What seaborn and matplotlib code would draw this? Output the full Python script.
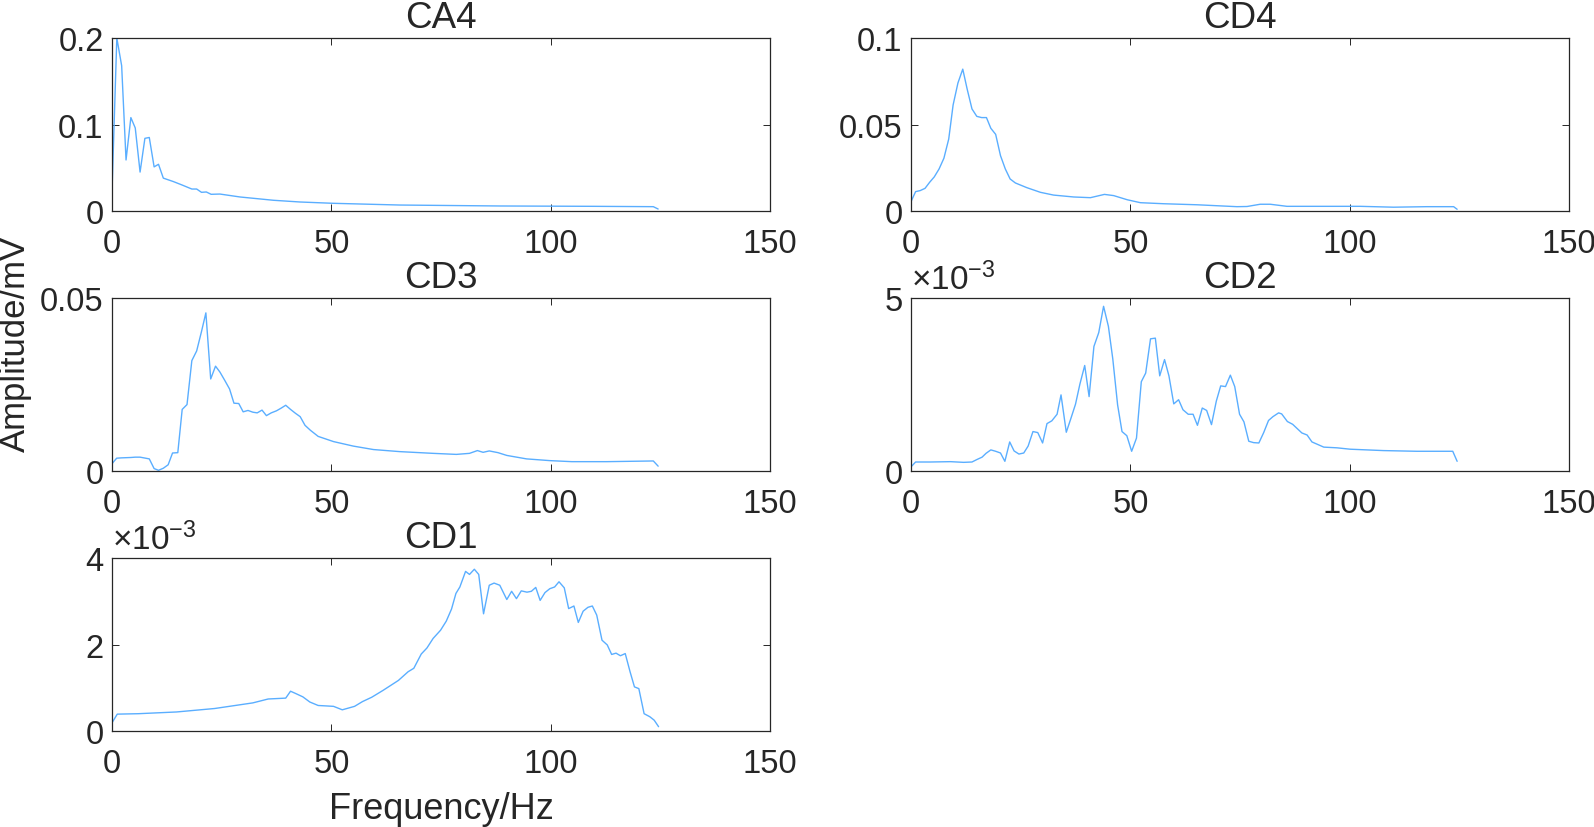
import numpy as np
import pandas as pd
import matplotlib
matplotlib.use("Agg")
import matplotlib.pyplot as plt
import seaborn as sns

# ---------------- data ----------------
ca4_f = [0, 1.1, 2.2, 3.2, 4.3, 5.3, 6.4, 7.5, 8.5, 9.6, 10.6, 11.7, 14, 16, 18.2, 19.3,
         20.4, 21.5, 22.6, 24.6, 29.2, 36.8, 42.9, 50.4, 65.6, 88.4, 110, 123.4, 124.5]
ca4_v = [0.022, 0.200, 0.168, 0.059, 0.108, 0.096, 0.045, 0.084, 0.085, 0.051, 0.054, 0.038,
         0.034, 0.030, 0.0254, 0.0254, 0.0216, 0.022, 0.0193, 0.0196, 0.0162, 0.0124, 0.0104,
         0.0089, 0.0069, 0.0058, 0.0054, 0.0050, 0.0023]

cd4_f = [0, 1.05, 2.1, 3.2, 4.25, 5.3, 6.4, 7.5, 8.6, 9.6, 10.7, 11.8, 12.8, 13.9, 15.0, 16.1,
         17.2, 18.2, 19.3, 20.4, 21.5, 22.6, 23.8, 26.4, 29.5, 32.5, 37.1, 40.9, 44.1, 46.2,
         49.3, 52.3, 57.6, 65.2, 74.3, 76.6, 79.6, 81.9, 85.7, 102.4, 110, 117.6, 123.7, 124.5]
cd4_v = [0.0054, 0.0112, 0.0118, 0.0131, 0.0166, 0.0197, 0.0243, 0.0305, 0.0416, 0.0613, 0.074,
         0.082, 0.0705, 0.059, 0.0547, 0.054, 0.054, 0.0478, 0.0443, 0.032, 0.0243, 0.0185,
         0.0162, 0.0135, 0.0108, 0.0092, 0.0081, 0.0077, 0.0096, 0.0089, 0.0065, 0.0048, 0.0042,
         0.0036, 0.0025, 0.0026, 0.0039, 0.0039, 0.0027, 0.0027, 0.0022, 0.0025, 0.0025, 0.0010]

cd3_f = [0, 1.06, 2.2, 4.25, 5.3, 6.4, 8.5, 9.6, 10.6, 11.7, 12.8, 13.8, 15.0, 16.0, 17.1,
         18.2, 19.3, 20.4, 21.4, 22.5, 23.6, 24.6, 25.7, 26.8, 27.8, 28.9, 29.9, 31.0, 32.1,
         33.1, 34.2, 35.2, 36.3, 37.5, 38.6, 39.6, 40.7, 41.8, 42.9, 44.0, 45.2, 47.0, 50.5,
         55.0, 59.6, 65.6, 73.2, 78.5, 81.5, 83.3, 84.6, 86.0, 88.0, 90.0, 94.5, 99.8, 104.8,
         112.8, 123.4, 124.5]
cd3_v = [0.0021, 0.0037, 0.0038, 0.0039, 0.0040, 0.0040, 0.0035, 0.0007, 0.0002, 0.0008,
         0.0018, 0.0052, 0.0053, 0.0178, 0.0192, 0.0319, 0.0347, 0.0403, 0.0457, 0.0266,
         0.0303, 0.0286, 0.0262, 0.0237, 0.0196, 0.0195, 0.0171, 0.0175, 0.0170, 0.0168,
         0.0176, 0.0160, 0.0168, 0.0174, 0.0182, 0.0190, 0.0178, 0.0167, 0.0157, 0.0132,
         0.0118, 0.0100, 0.0085, 0.0072, 0.0062, 0.0056, 0.0051, 0.0048, 0.0051, 0.0059,
         0.0054, 0.0058, 0.0053, 0.0045, 0.0035, 0.0030, 0.0027, 0.0027, 0.0029, 0.0014]

# CD2 and CD1 in units of 1e-3 mV
cd2_f = [0, 1.05, 4.4, 9.0, 12.0, 13.9, 15.0, 16.2, 17.1, 18.2, 19.3, 20.4, 21.4, 22.5, 23.5,
         24.6, 25.7, 26.7, 27.8, 28.9, 30.0, 31.0, 32.1, 33.3, 34.2, 35.4, 36.4, 37.5, 38.5,
         39.6, 40.6, 41.7, 42.8, 43.9, 45.0, 46.0, 47.1, 48.1, 49.2, 50.3, 51.4, 52.5, 53.5,
         54.6, 55.7, 56.7, 57.8, 58.8, 59.9, 61.0, 62.0, 63.2, 64.3, 65.3, 66.4, 67.4, 68.5,
         69.6, 70.6, 71.7, 72.8, 73.8, 74.9, 75.9, 77.0, 78.1, 79.3, 80.4, 81.5, 82.5, 83.8,
         84.5, 85.8, 87.0, 89.1, 90.3, 91.4, 94.1, 97.1, 100.1, 107.7, 115.3, 123.5, 124.5]
cd2_v = [0.12, 0.26, 0.26, 0.27, 0.25, 0.26, 0.33, 0.40, 0.51, 0.61, 0.57, 0.52, 0.28, 0.84,
         0.58, 0.49, 0.52, 0.72, 1.14, 1.11, 0.81, 1.37, 1.45, 1.64, 2.20, 1.12, 1.50, 1.93,
         2.51, 3.05, 2.15, 3.60, 4.00, 4.76, 4.18, 3.24, 1.91, 1.14, 1.02, 0.57, 0.95, 2.58,
         2.83, 3.82, 3.84, 2.75, 3.22, 2.75, 1.94, 2.06, 1.77, 1.64, 1.64, 1.32, 1.82, 1.75,
         1.34, 2.02, 2.46, 2.44, 2.77, 2.44, 1.64, 1.42, 0.86, 0.82, 0.81, 1.11, 1.46, 1.57,
         1.68, 1.65, 1.43, 1.35, 1.10, 1.04, 0.84, 0.69, 0.67, 0.63, 0.59, 0.57, 0.57, 0.28]

cd1_f = [0, 1.2, 6.0, 14.7, 23.4, 32.1, 35.6, 39.6, 40.7, 41.8, 43.5, 45.1, 47.0, 48.8, 50.5,
         52.5, 55.3, 57.1, 59.2, 61.8, 65.3, 67.5, 68.8, 70.5, 71.8, 73.2, 74.9, 76.2, 77.4,
         78.4, 79.3, 80.6, 81.5, 82.6, 83.6, 84.7, 86.0, 87.1, 88.4, 90.0, 91.1, 92.2, 93.3,
         94.6, 95.6, 96.6, 97.6, 98.7, 99.8, 100.9, 101.9, 103.1, 104.1, 105.3, 106.3, 107.4,
         108.5, 109.5, 110.5, 111.7, 112.9, 113.9, 114.9, 115.9, 117.0, 118.1, 119.1, 120.1,
         121.3, 122.6, 123.6, 124.6]
cd1_v = [0.19, 0.39, 0.40, 0.44, 0.52, 0.65, 0.74, 0.76, 0.92, 0.87, 0.79, 0.67, 0.59, 0.58,
         0.57, 0.49, 0.57, 0.68, 0.78, 0.94, 1.17, 1.37, 1.45, 1.78, 1.92, 2.14, 2.33, 2.54,
         2.82, 3.18, 3.33, 3.69, 3.62, 3.74, 3.62, 2.71, 3.37, 3.42, 3.37, 3.04, 3.23, 3.06,
         3.24, 3.21, 3.23, 3.32, 3.02, 3.20, 3.29, 3.33, 3.45, 3.31, 2.83, 2.89, 2.51, 2.77,
         2.86, 2.89, 2.68, 2.10, 1.99, 1.77, 1.80, 1.74, 1.79, 1.37, 1.02, 0.98, 0.40, 0.33,
         0.25, 0.10]

titles = ["CA4", "CD4", "CD3", "CD2", "CD1"]
x_ticks = [0, 50, 100, 150]
y_ticks = [[0, 0.1, 0.2], [0, 0.05, 0.1], [0, 0.05], [0, 5], [0, 2, 4]]
y_ticklabels = [["0", "0.1", "0.2"], ["0", "0.05", "0.1"], ["0", "0.05"], ["0", "5"], ["0", "2", "4"]]
y_limits = [(0, 0.2), (0, 0.1), (0, 0.05), (0, 5), (0, 4)]
exponent = [None, None, None, r"$\times10^{-3}$", r"$\times10^{-3}$"]
x_label = "Frequency/Hz"
y_label = "Amplitude/mV"

series = [(ca4_f, ca4_v), (cd4_f, cd4_v), (cd3_f, cd3_v), (cd2_f, cd2_v), (cd1_f, cd1_v)]

# ---------------- style ----------------
sns.set_style("ticks")
plt.rcParams["font.family"] = ["Liberation Sans", "DejaVu Sans"]
plt.rcParams["mathtext.fontset"] = "custom"
plt.rcParams["mathtext.rm"] = "Liberation Sans"
plt.rcParams["mathtext.it"] = "Liberation Sans"
TXT = "#262626"
LINE = "#5AAEFF"

fig = plt.figure(figsize=(15.94, 8.28), dpi=100)
W, H = 1594, 828
ax_w, ax_h = 658, 173
lefts = [112, 911]
bottoms = [212, 472, 732]
positions = [(lefts[0], bottoms[0]), (lefts[1], bottoms[0]),
             (lefts[0], bottoms[1]), (lefts[1], bottoms[1]),
             (lefts[0], bottoms[2])]

for i, ((fx, vy), (lx, by)) in enumerate(zip(series, positions)):
    ax = fig.add_axes([lx / W, 1 - by / H, ax_w / W, ax_h / H])
    df = pd.DataFrame({"f": fx, "v": vy})
    sns.lineplot(data=df, x="f", y="v", ax=ax, color=LINE, linewidth=1.0,
                 estimator=None, sort=False)
    ax.set_xlim(0, 150)
    ax.set_ylim(*y_limits[i])
    ax.set_xticks(x_ticks)
    ax.set_xticklabels([str(t) for t in x_ticks])
    ax.set_yticks(y_ticks[i])
    ax.set_yticklabels(y_ticklabels[i])
    ax.set_xlabel("")
    ax.set_ylabel("")
    ax.set_title(titles[i], fontsize=26.5, color=TXT, pad=8)
    for s in ax.spines.values():
        s.set_visible(True)
        s.set_color(TXT)
        s.set_linewidth(0.9)
    ax.tick_params(axis="both", which="both", direction="in", length=5, width=0.7,
                   colors=TXT, labelsize=23.5, top=True, right=True)
    ax.tick_params(axis="x", pad=12)
    ax.tick_params(axis="y", pad=6)
    if exponent[i]:
        ax.text(0.0, 1.0 + 9 / ax_h, exponent[i], transform=ax.transAxes,
                ha="left", va="baseline", fontsize=24, color=TXT)

fig.text(15 / W, 1 - 344 / H, y_label, rotation=90, ha="center", va="center",
         fontsize=25, color=TXT)
fig.text(441 / W, 1 - 819 / H, x_label, ha="center", va="baseline",
         fontsize=26, color=TXT)

fig.savefig("out.png", dpi=100)
